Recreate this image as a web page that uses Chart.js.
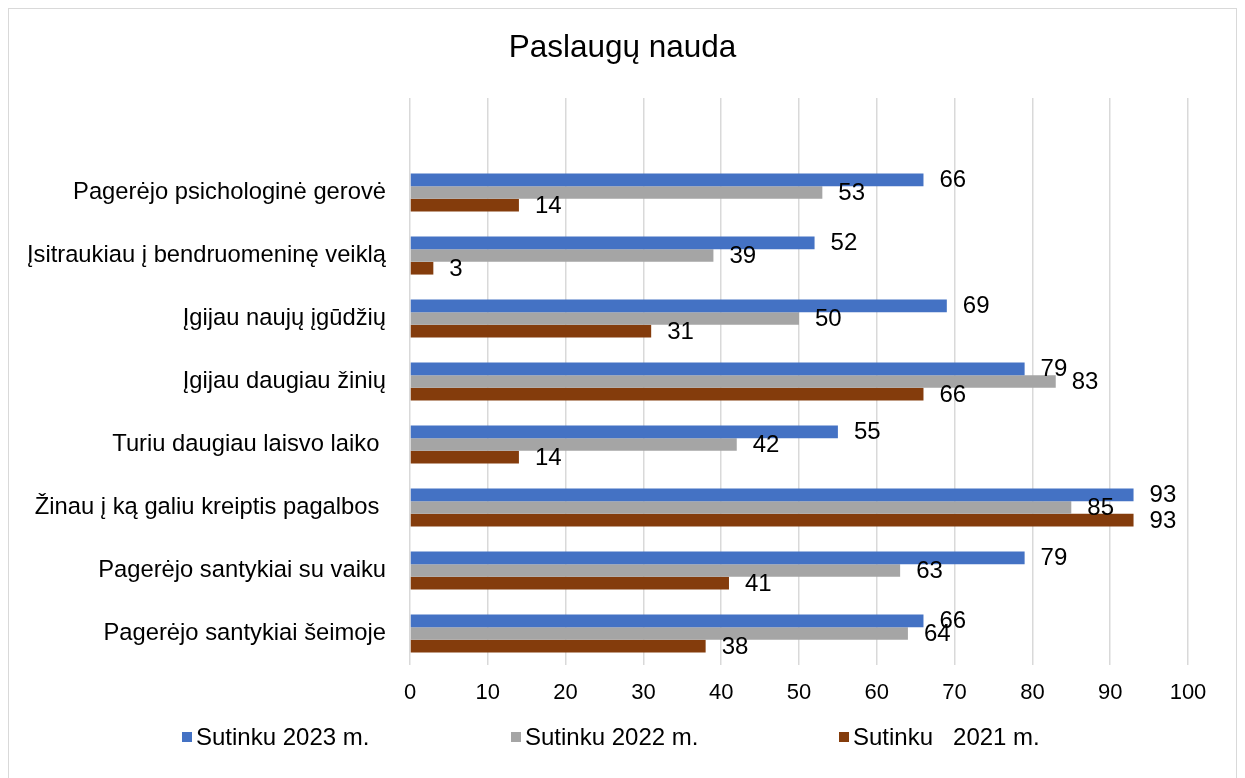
<!DOCTYPE html>
<html>
<head>
<meta charset="utf-8">
<script src="https://cdn.jsdelivr.net/npm/chart.js@4"></script>
<style>
  html, body { margin: 0; padding: 0; background: #fff; }
  #wrap { position: relative; width: 1245px; height: 778px; overflow: hidden; }
  #frame { position: absolute; left: 8px; top: 8px; width: 1229px; height: 775px; border: 1.5px solid #d9d9d9; box-sizing: border-box; pointer-events: none; }
  canvas { position: absolute; left: 0; top: 0; }
  .lg { position: absolute; top: 722px; height: 30px; display: flex; align-items: center; font-family: "Liberation Sans", Arial, sans-serif; font-size: 24px; color: #000; white-space: pre; }
  .lg span.b { display: inline-block; width: 10px; height: 10px; margin-right: 4px; }
</style>
</head>
<body>
<div id="wrap">
  <div id="frame"></div>
  <canvas id="c" width="1245" height="778"></canvas>
  <div id="legend"></div>
</div>
<script>
const categories = [
  "",
  "Pagerėjo psichologinė gerovė",
  "Įsitraukiau į bendruomeninę veiklą",
  "Įgijau naujų įgūdžių",
  "Įgijau daugiau žinių",
  "Turiu daugiau laisvo laiko ",
  "Žinau į ką galiu kreiptis pagalbos ",
  "Pagerėjo santykiai su vaiku",
  "Pagerėjo santykiai šeimoje"
];
const seriesNames = ["Sutinku 2023 m.", "Sutinku 2022 m.", "Sutinku   2021 m."];
const values2023 = [null, 66, 52, 69, 79, 55, 93, 79, 66];
const values2022 = [null, 53, 39, 50, 83, 42, 85, 63, 64];
const values2021 = [null, 14, 3, 31, 66, 14, 93, 41, 38];
const xTicks = [0, 10, 20, 30, 40, 50, 60, 70, 80, 90, 100];
const colors = ["#4472C4", "#A5A5A5", "#843C0C"];
const FONT = '"Liberation Sans", Arial, sans-serif';

const labelPlugin = {
  id: 'barValueLabels',
  afterDatasetsDraw(chart) {
    const ctx = chart.ctx;
    ctx.save();
    ctx.font = '24px ' + FONT;
    ctx.fillStyle = '#000';
    ctx.textAlign = 'left';
    ctx.textBaseline = 'middle';
    chart.data.datasets.forEach((ds, di) => {
      const meta = chart.getDatasetMeta(di);
      meta.data.forEach((el, i) => {
        const v = ds.data[i];
        if (v === null || v === undefined) return;
        ctx.fillText(String(v), el.x + 16, el.y + 1);
      });
    });
    ctx.restore();
  }
};

const chart = new Chart(document.getElementById('c'), {
  type: 'bar',
  data: {
    labels: categories,
    datasets: [
      { label: seriesNames[0], data: values2023, backgroundColor: colors[0] },
      { label: seriesNames[1], data: values2022, backgroundColor: colors[1] },
      { label: seriesNames[2], data: values2021, backgroundColor: colors[2] }
    ]
  },
  options: {
    indexAxis: 'y',
    responsive: false,
    animation: false,
    devicePixelRatio: 1,
    layout: { padding: { left: 0, right: 0, top: 0, bottom: 73 } },
    datasets: { bar: { categoryPercentage: 0.605, barPercentage: 1.0 } },
    plugins: {
      legend: { display: false },
      tooltip: { enabled: false },
      title: {
        display: true,
        text: 'Paslaugų nauda',
        color: '#000',
        font: { family: FONT, size: 31.5, weight: 'normal', lineHeight: 1.2 },
        padding: { top: 29, bottom: 31.2 }
      }
    },
    scales: {
      x: {
        min: 0, max: 100,
        afterBuildTicks(scale) { scale.ticks = xTicks.map(v => ({ value: v })); },
        afterFit(scale) { scale.height = 40; scale.paddingRight = 57; },
        grid: { color: '#d9d9d9', lineWidth: 1.5, drawTicks: false },
        border: { display: false },
        ticks: { color: '#000', padding: 15, font: { family: FONT, size: 22 }, maxRotation: 0 }
      },
      y: {
        afterFit(scale) { scale.width = 410; },
        grid: { display: false, drawTicks: false },
        border: { display: false },
        ticks: { color: '#000', padding: 24, font: { family: FONT, size: 23.75 }, autoSkip: false }
      }
    }
  },
  plugins: [labelPlugin]
});

// HTML legend built from the datasets
const legendPos = [182, 511, 839];
const legendEl = document.getElementById('legend');
chart.data.datasets.forEach((ds, i) => {
  const d = document.createElement('div');
  d.className = 'lg';
  d.style.left = legendPos[i] + 'px';
  const b = document.createElement('span');
  b.className = 'b';
  b.style.background = ds.backgroundColor;
  const t = document.createElement('span');
  t.textContent = ds.label;
  d.appendChild(b);
  d.appendChild(t);
  legendEl.appendChild(d);
});
</script>
</body>
</html>
